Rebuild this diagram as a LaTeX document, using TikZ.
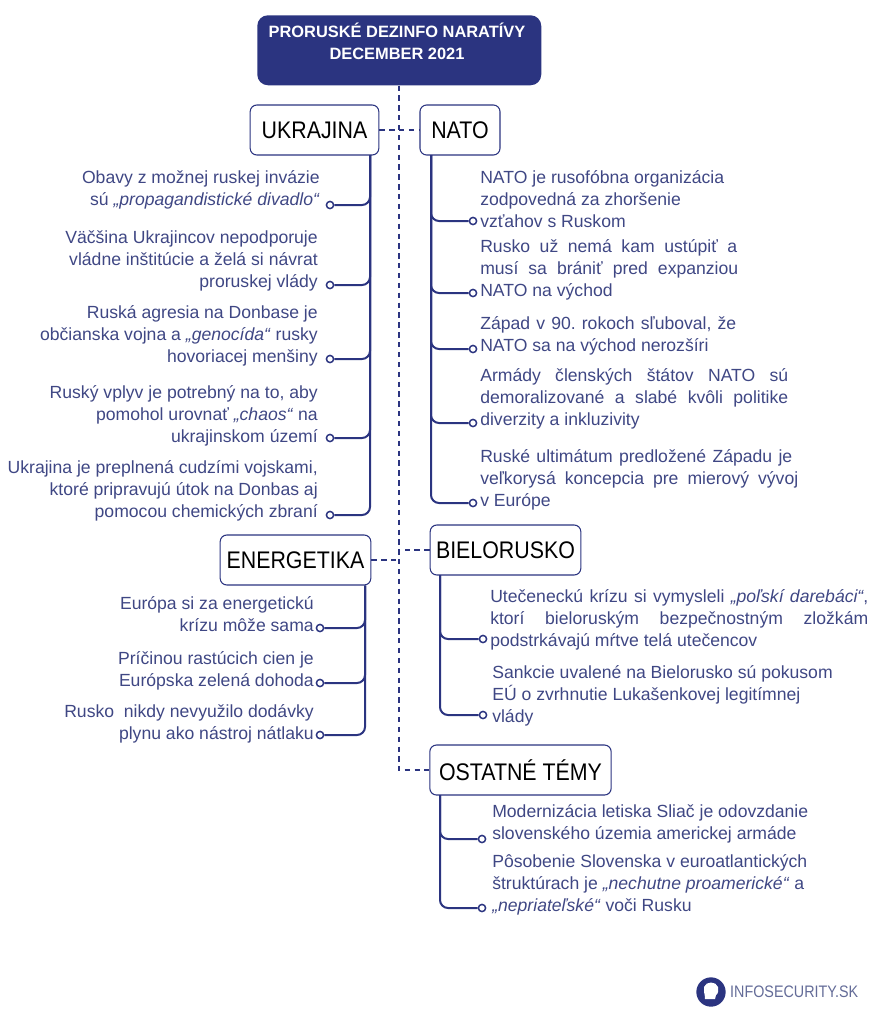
\documentclass[tikz,border=0pt]{standalone}
\usepackage{fontspec}
\setmainfont{Liberation Sans}
\newfontfamily\boxfont[FakeStretch=0.89]{Liberation Sans}
\newfontfamily\brandfont[FakeStretch=0.86]{Liberation Sans}
\usetikzlibrary{arrows.meta,positioning}
\definecolor{navy}{HTML}{2B3480}
\definecolor{txtblue}{HTML}{3F4784}
\definecolor{logogray}{HTML}{646C98}
\newcommand{\jl}[2]{\makebox[\dimexpr #1pt*3/4\relax][s]{#2}}
\frenchspacing

\begin{document}
\begin{tikzpicture}[
    x=0.75pt, y=-0.75pt,
    box/.style={draw=navy, fill=white, rounded corners=5pt, line width=0.8pt, inner sep=0pt,
                text=black, font=\boxfont\fontsize{18}{20}\selectfont},
    head/.style={fill=navy, rounded corners=8pt, inner sep=0pt, minimum width=213pt, minimum height=52.5pt},
    lbl/.style={text=txtblue, inner sep=0pt, font=\fontsize{13.2}{16.5}\selectfont},
    lleft/.style={lbl, anchor=north east, align=right},
    lright/.style={lbl, anchor=north west, align=left},
    dot/.style={circle, draw=navy, fill=white, line width=1.1pt, inner sep=0pt, minimum size=5.4pt},
    branch/.style={draw=navy, line width=1.5pt, rounded corners=6pt},
    link/.style={draw=navy, line width=1.5pt, dash pattern=on 4pt off 3.4pt},
  ]
  \useasboundingbox (0,0) rectangle (871,1011);

  % Title
  \node[head, anchor=north west] (title) at (257,15) {};
  \node[text=white, align=center, inner sep=0pt, font=\fontsize{12.3}{16.5}\bfseries\selectfont] (titletext) at (397,41)
    {PRORUSKÉ DEZINFO NARATÍVY\\DECEMBER 2021};

  % Topic boxes
  \node[box, minimum width=96.5pt, minimum height=37.5pt] (ukrajina) at (314.5,130) {UKRAJINA};
  \node[box, minimum width=60pt, minimum height=37.5pt] (nato) at (460,130) {NATO};
  \node[box, minimum width=113pt, minimum height=37.5pt] (energetika) at (295.5,560) {ENERGETIKA};
  \node[box, minimum width=113pt, minimum height=37.5pt] (bielorusko) at (505.5,550) {BIELORUSKO};
  \node[box, minimum width=136pt, minimum height=37.5pt] (ostatne) at (520.5,770) {OSTATNÉ TÉMY};

  % Dashed links
  \coordinate (spine) at (398.5,770);
  \draw[link] (title.south -| spine) -- (spine) -- (ostatne.west);
  \draw[link] (ukrajina) -- (nato);
  \draw[link] (energetika.east) -- (energetika.east -| spine);
  \draw[link] (bielorusko.west) -- (bielorusko.west -| spine);

  % Ukrajina
  \node[lleft] (u1) at (320,170) {Obavy z možnej ruskej invázie\\sú \textit{„propagandistické divadlo“}};
  \node[lleft] (u2) at (318,230) {Väčšina Ukrajincov nepodporuje\\vládne inštitúcie a želá si návrat\\proruskej vlády};
  \node[lleft] (u3) at (318,305) {Ruská agresia na Donbase je\\občianska vojna a \textit{„genocída“} rusky\\hovoriacej menšiny};
  \node[lleft] (u4) at (318,385) {Ruský vplyv je potrebný na to, aby\\pomohol urovnať \textit{„chaos“} na\\ukrajinskom území};
  \node[lleft] (u5) at (318,460) {Ukrajina je preplnená cudzími vojskami,\\ktoré pripravujú útok na Donbas aj\\pomocou chemických zbraní};
  \coordinate (utrunk) at (370,155);
  \foreach \name/\y in {ud1/205,ud2/285,ud3/359,ud4/438,ud5/515} {
    \node[dot] (\name) at (330,\y) {};
    \draw[branch] (utrunk) |- (\name);
  }

  % NATO
  \node[lright] (n1) at (480,170) {NATO je rusofóbna organizácia\\zodpovedná za zhoršenie\\vzťahov s Ruskom};
  \node[lright] (n2) at (480,239) {\jl{257}{Rusko už nemá kam ustúpiť a}\\\jl{258}{musí sa brániť pred expanziou}\\NATO na východ};
  \node[lright] (n3) at (480,316) {\jl{256}{Západ v 90. rokoch sľuboval, že}\\NATO sa na východ nerozšíri};
  \node[lright] (n4) at (480,368) {\jl{308}{Armády členských štátov NATO sú}\\\jl{308}{demoralizované a slabé kvôli politike}\\diverzity a inkluzivity};
  \node[lright] (n5) at (480,449) {\jl{312}{Ruské ultimátum predložené Západu je}\\\jl{318}{veľkorysá koncepcia pre mierový vývoj}\\v Európe};
  \coordinate (ntrunk) at (431,155);
  \foreach \name/\y in {nd1/221,nd2/293,nd3/349,nd4/423,nd5/503} {
    \node[dot] (\name) at (473,\y) {};
    \draw[branch] (ntrunk) |- (\name);
  }

  % Energetika
  \node[lleft] (e1) at (314,596) {Európa si za energetickú\\krízu môže sama};
  \node[lleft] (e2) at (314,651) {Príčinou rastúcich cien je\\Európska zelená dohoda};
  \node[lleft] (e3) at (314,704) {Rusko\ \ nikdy nevyužilo dodávky\\plynu ako nástroj nátlaku};
  \coordinate (etrunk) at (365,585.5);
  \foreach \name/\y in {ed1/628,ed2/683,ed3/735} {
    \node[dot] (\name) at (320,\y) {};
    \draw[branch] (etrunk) |- (\name);
  }

  % Bielorusko
  \node[lright] (b1) at (490,589) {\jl{378}{Utečeneckú krízu si vymysleli \textit{„poľskí darebáci“},}\\\jl{378}{ktorí bieloruským bezpečnostným zložkám}\\podstrkávajú mŕtve telá utečencov};
  \node[lright] (b2) at (492,665) {Sankcie uvalené na Bielorusko sú pokusom\\EÚ o zvrhnutie Lukašenkovej legitímnej\\vlády};
  \coordinate (btrunk) at (440,575);
  \foreach \name/\y in {bd1/639,bd2/715} {
    \node[dot] (\name) at (483,\y) {};
    \draw[branch] (btrunk) |- (\name);
  }

  % Ostatne temy
  \node[lright] (o1) at (492,804) {Modernizácia letiska Sliač je odovzdanie\\slovenského územia americkej armáde};
  \node[lright] (o2) at (492,854) {Pôsobenie Slovenska v euroatlantických\\štruktúrach je \textit{„nechutne proamerické“} a\\\textit{„nepriateľské“} voči Rusku};
  \coordinate (otrunk) at (440,795);
  \foreach \name/\y in {od1/839,od2/908} {
    \node[dot] (\name) at (482,\y) {};
    \draw[branch] (otrunk) |- (\name);
  }

  % Logo
  \node[circle, fill=navy, minimum size=22pt, inner sep=0pt] (logo) at (711,992) {};
  \fill[white] (705,999) .. controls (705,993) and (703,991) .. (704,987) .. controls (706,981) and (716,981) .. (718,987) .. controls (719,990) and (718,994) .. (716,995) -- (715,999) -- cycle;
  \node[right=3pt of logo, inner sep=0pt, text=logogray, font=\brandfont\fontsize{12.5}{14}\selectfont] (brand) {INFOSECURITY.SK};
\end{tikzpicture}
\end{document}
